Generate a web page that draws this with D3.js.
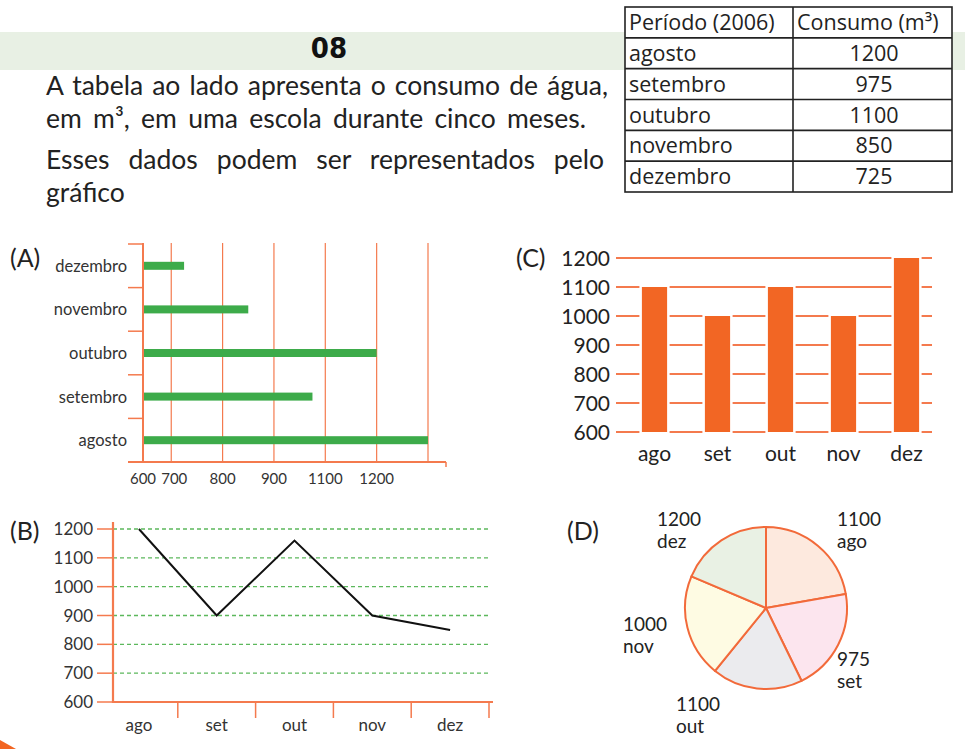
<!DOCTYPE html>
<html>
<head>
<meta charset="utf-8">
<script src="https://cdn.jsdelivr.net/npm/d3@7"></script>
<style>
  body { margin: 0; background: #fff; }
  svg { display: block; font-family: Lato, "Open Sans", sans-serif; }
</style>
</head>
<body>
<svg id="page" width="965" height="749"></svg>
<script>
// table data
const months = ['agosto', 'setembro', 'outubro', 'novembro', 'dezembro'];
const monthShort = ['ago', 'set', 'out', 'nov', 'dez'];
const consumo = [1200, 975, 1100, 850, 725];

// (A) horizontal bars, grid and the (wrong) tick labels as printed
const barsA = [1200, 975, 1100, 850, 725];
const gridA = [700, 800, 900, 1000, 1100, 1200];
const tickValsA = [645, 700, 800, 900, 1000, 1100];
const tickLabelsA = ['600', '700', '800', '900', '1100', '1200'];

// (B) line chart
const lineB = [1200, 900, 1160, 900, 850];
const ticksB = [600, 700, 800, 900, 1000, 1100, 1200];

// (C) vertical bars
const barsC = [1100, 1000, 1100, 1000, 1200];
const ticksC = [600, 700, 800, 900, 1000, 1100, 1200];

// (D) pie: slice sizes as drawn, and printed labels
const pieShare = [80, 74, 65, 74, 67];
const pieLabels = ['1100', '975', '1100', '1000', '1200'];
const pieColors = ['#fde9de', '#fce5ee', '#ebebee', '#fefbe3', '#e9f1e4'];

const orange = '#f47a4e';
const svg = d3.select('#page');

/* ---------- header ---------- */
svg.append('rect')
    .attr('x', 0).attr('y', 32)
    .attr('width', 965).attr('height', 38)
    .attr('fill', '#e8f0e4');

svg.append('text')
    .attr('x', 329).attr('y', 58)
    .attr('text-anchor', 'middle')
    .style('font-family', '"Liberation Sans Narrow", "DejaVu Sans Condensed", sans-serif')
    .style('font-weight', 'bold')
    .style('font-size', '29px')
    .attr('fill', '#111')
    .text('08');

const intro = [
  {t: 'A tabela ao lado apresenta o consumo de água,', y: 95, w: 562},
  {t: 'em m³, em uma escola durante cinco meses.', y: 128, w: 540},
  {t: 'Esses dados podem ser representados pelo', y: 169, w: 558},
  {t: 'gráfico', y: 202, w: null},
];
intro.forEach((d) => {
  const t = svg.append('text')
      .attr('x', 46).attr('y', d.y)
      .style('font-size', '26.5px')
      .attr('fill', '#222')
      .text(d.t);
  if (d.w) {
    // justify by spreading the gaps between words
    const natural = t.node().getComputedTextLength();
    const gaps = d.t.split(' ').length - 1;
    t.style('word-spacing', `${(d.w - natural) / gaps}px`);
  }
});

/* ---------- table ---------- */
const tbl = svg.append('g')
    .style('font-family', '"Open Sans", "Noto Sans", sans-serif')
    .style('font-size', '21.5px')
    .attr('fill', '#222');
const rowY = d3.scaleBand()
    .domain(['head'].concat(months))
    .range([7, 192]);
tbl.append('rect')
    .attr('x', 625).attr('y', 7)
    .attr('width', 327).attr('height', 185)
    .attr('fill', '#fff')
    .attr('stroke', '#222').attr('stroke-width', 1.6);
tbl.append('line')
    .attr('x1', 793).attr('x2', 793)
    .attr('y1', 7).attr('y2', 192)
    .attr('stroke', '#222').attr('stroke-width', 1.6);
months.forEach((m) => {
  tbl.append('line')
      .attr('x1', 625).attr('x2', 952)
      .attr('y1', rowY(m)).attr('y2', rowY(m))
      .attr('stroke', '#222').attr('stroke-width', 1.6);
});
tbl.append('text')
    .attr('x', 629).attr('y', rowY('head') + rowY.bandwidth() / 2)
    .attr('dy', '0.36em')
    .text('Período (2006)');
tbl.append('text')
    .attr('x', 797).attr('y', rowY('head') + rowY.bandwidth() / 2)
    .attr('dy', '0.36em')
    .text('Consumo (m³)');
months.forEach((m, i) => {
  const cy = rowY(m) + rowY.bandwidth() / 2;
  tbl.append('text')
      .attr('x', 629).attr('y', cy).attr('dy', '0.36em')
      .text(m);
  tbl.append('text')
      .attr('x', 874).attr('y', cy).attr('dy', '0.36em')
      .attr('text-anchor', 'middle')
      .text(consumo[i]);
});

/* ---------- panel letters ---------- */
const letters = [
  {t: '(A)', x: 10, y: 258},
  {t: '(C)', x: 516, y: 258},
  {t: '(B)', x: 10, y: 531},
  {t: '(D)', x: 567, y: 531},
];
letters.forEach((d) => {
  svg.append('text')
      .attr('x', d.x).attr('y', d.y).attr('dy', '0.36em')
      .style('font-size', '25px')
      .attr('fill', '#222')
      .text(d.t);
});

/* ---------- (A) ---------- */
const gA = svg.append('g');
const xA = d3.scaleLinear().domain([645, 1200]).range([143, 428]);
const yA = d3.scaleBand()
    .domain(months.slice().reverse())
    .range([244, 462]);

gA.selectAll('.gridA')
    .data(gridA)
    .join('line')
    .attr('x1', (d) => xA(d)).attr('x2', (d) => xA(d))
    .attr('y1', 243).attr('y2', 462)
    .attr('stroke', orange).attr('stroke-width', 1.2);

gA.selectAll('.bandTick')
    .data(yA.domain().concat(['end']))
    .join('line')
    .attr('x1', 128).attr('x2', 143)
    .attr('y1', (d) => d === 'end' ? yA.range()[1] : yA(d))
    .attr('y2', (d) => d === 'end' ? yA.range()[1] : yA(d))
    .attr('stroke', orange).attr('stroke-width', 1.5);

gA.selectAll('.barA')
    .data(months)
    .join('rect')
    .attr('x', xA(645))
    .attr('y', (d) => yA(d) + yA.bandwidth() / 2 - 4)
    .attr('width', (d, i) => xA(barsA[i]) - xA(645))
    .attr('height', 8)
    .attr('fill', '#3dab4a');

gA.append('line')
    .attr('x1', 143).attr('x2', 143)
    .attr('y1', 243).attr('y2', 463)
    .attr('stroke', orange).attr('stroke-width', 2);
gA.append('line')
    .attr('x1', 128).attr('x2', 446)
    .attr('y1', 462).attr('y2', 462)
    .attr('stroke', orange).attr('stroke-width', 2);
gA.append('line')
    .attr('x1', 446).attr('x2', 446)
    .attr('y1', 462).attr('y2', 467)
    .attr('stroke', orange).attr('stroke-width', 1.5);

gA.selectAll('.catA')
    .data(months)
    .join('text')
    .attr('x', 127)
    .attr('y', (d) => yA(d) + yA.bandwidth() / 2)
    .attr('dy', '0.36em')
    .attr('text-anchor', 'end')
    .style('font-size', '16.5px')
    .attr('fill', '#333')
    .text((d) => d);

gA.selectAll('.tickA')
    .data(tickValsA)
    .join('text')
    .attr('x', (d, i) => xA(d) + (i === 1 ? 3 : 0))
    .attr('y', 484)
    .attr('text-anchor', 'middle')
    .style('font-size', '15px')
    .attr('fill', '#333')
    .text((d, i) => tickLabelsA[i]);

/* ---------- (C) ---------- */
const gC = svg.append('g');
const xC = d3.scaleBand()
    .domain(monthShort)
    .range([623, 938])
    .paddingInner(0.6)
    .paddingOuter(0.3);
const yC = d3.scaleLinear().domain([600, 1200]).range([432, 258]);

gC.selectAll('.gridC')
    .data(ticksC)
    .join('line')
    .attr('x1', 616).attr('x2', 932)
    .attr('y1', (d) => yC(d)).attr('y2', (d) => yC(d))
    .attr('stroke', orange).attr('stroke-width', 2.2);

gC.selectAll('.gapC')
    .data(monthShort)
    .join('rect')
    .attr('x', (d) => xC(d) - 2.5)
    .attr('y', (d, i) => yC(barsC[i]) - 1)
    .attr('width', xC.bandwidth() + 5)
    .attr('height', (d, i) => yC(600) - yC(barsC[i]) + 3)
    .attr('fill', '#fff');

gC.selectAll('.barC')
    .data(monthShort)
    .join('rect')
    .attr('x', (d) => xC(d))
    .attr('y', (d, i) => yC(barsC[i]))
    .attr('width', xC.bandwidth())
    .attr('height', (d, i) => yC(600) - yC(barsC[i]))
    .attr('fill', '#f26624');

gC.selectAll('.ylabC')
    .data(ticksC)
    .join('text')
    .attr('x', 610)
    .attr('y', (d) => yC(d))
    .attr('dy', '0.36em')
    .attr('text-anchor', 'end')
    .style('font-size', '21px')
    .attr('fill', '#222')
    .text((d) => d);

gC.selectAll('.xlabC')
    .data(monthShort)
    .join('text')
    .attr('x', (d) => xC(d) + xC.bandwidth() / 2)
    .attr('y', 461)
    .attr('text-anchor', 'middle')
    .style('font-size', '21px')
    .attr('fill', '#222')
    .text((d) => d);

/* ---------- (B) ---------- */
const gB = svg.append('g');
const xB = d3.scaleBand().domain(monthShort).range([100, 489]);
const yB = d3.scaleLinear().domain([600, 1200]).range([702, 529]);

gB.selectAll('.gridB')
    .data(ticksB.slice(1))
    .join('line')
    .attr('x1', 113).attr('x2', 490)
    .attr('y1', (d) => yB(d)).attr('y2', (d) => yB(d))
    .attr('stroke', '#5cb85c').attr('stroke-width', 1.3)
    .attr('stroke-dasharray', '4,3');

gB.selectAll('.ytB')
    .data(ticksB)
    .join('line')
    .attr('x1', 97).attr('x2', 113)
    .attr('y1', (d) => yB(d)).attr('y2', (d) => yB(d))
    .attr('stroke', orange).attr('stroke-width', 1.5);

gB.selectAll('.xtB')
    .data(monthShort)
    .join('line')
    .attr('x1', (d) => xB(d) + xB.bandwidth())
    .attr('x2', (d) => xB(d) + xB.bandwidth())
    .attr('y1', 702).attr('y2', 718)
    .attr('stroke', orange).attr('stroke-width', 1.5);

gB.append('line')
    .attr('x1', 113).attr('x2', 113)
    .attr('y1', 522).attr('y2', 703)
    .attr('stroke', orange).attr('stroke-width', 2.2);
gB.append('line')
    .attr('x1', 112).attr('x2', 493)
    .attr('y1', 702).attr('y2', 702)
    .attr('stroke', orange).attr('stroke-width', 2.2);

const lineGen = d3.line()
    .x((d, i) => xB(monthShort[i]) + xB.bandwidth() / 2)
    .y((d) => yB(d));
gB.append('path')
    .datum(lineB)
    .attr('d', lineGen)
    .attr('fill', 'none')
    .attr('stroke', '#111')
    .attr('stroke-width', 2);

gB.selectAll('.ylabB')
    .data(ticksB)
    .join('text')
    .attr('x', 93)
    .attr('y', (d) => yB(d))
    .attr('dy', '0.36em')
    .attr('text-anchor', 'end')
    .style('font-size', '17px')
    .attr('fill', '#333')
    .text((d) => d);

gB.selectAll('.xlabB')
    .data(monthShort)
    .join('text')
    .attr('x', (d) => xB(d) + xB.bandwidth() / 2)
    .attr('y', 731)
    .attr('text-anchor', 'middle')
    .style('font-size', '17px')
    .attr('fill', '#333')
    .text((d) => d);

/* ---------- (D) ---------- */
const gD = svg.append('g').attr('transform', 'translate(766,608)');
const pie = d3.pie().sort(null).value((d) => d);
const arc = d3.arc().innerRadius(0).outerRadius(81);
gD.selectAll('path')
    .data(pie(pieShare))
    .join('path')
    .attr('d', arc)
    .attr('fill', (d, i) => pieColors[i])
    .attr('stroke', '#f26a3a')
    .attr('stroke-width', 2)
    .attr('stroke-linejoin', 'round');

const pieLabelPos = [
  {x: 837, y: 526},
  {x: 837, y: 666},
  {x: 676, y: 711},
  {x: 623, y: 631},
  {x: 657, y: 526},
];
pieLabelPos.forEach((p, i) => {
  svg.append('text')
      .attr('x', p.x).attr('y', p.y)
      .style('font-size', '19px')
      .attr('fill', '#222')
      .text(pieLabels[i]);
  svg.append('text')
      .attr('x', p.x).attr('y', p.y + 22)
      .style('font-size', '19px')
      .attr('fill', '#222')
      .text(monthShort[i]);
});

// orange corner at the bottom left
svg.append('path')
    .attr('d', 'M0,740 L16,749 L0,749 Z')
    .attr('fill', '#f26522');
</script>
</body>
</html>
